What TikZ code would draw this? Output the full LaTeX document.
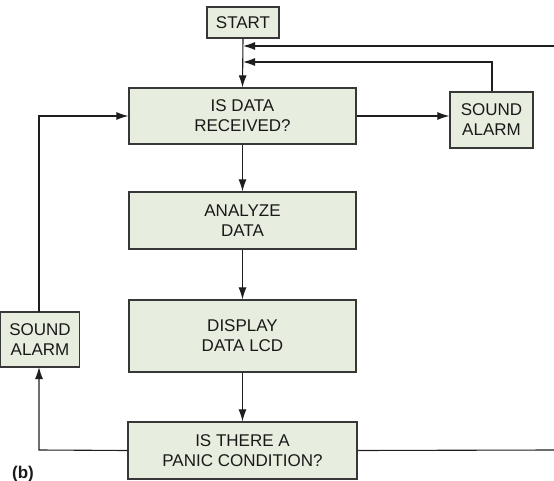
\documentclass[tikz,border=0pt]{standalone}
\usepackage{fontspec}
\setmainfont{Liberation Sans}
\usetikzlibrary{arrows.meta}
\definecolor{boxfill}{RGB}{232,238,223}
\definecolor{boxline}{RGB}{55,55,55}
\definecolor{lineclr}{RGB}{30,30,30}
\definecolor{txt}{RGB}{25,25,25}
\begin{document}
\begin{tikzpicture}[x=1pt,y=-1pt,
  blk/.style={draw=boxline,fill=boxfill,line width=1.2pt,inner sep=0pt,align=center,
    text=txt,font=\fontsize{17}{20}\selectfont,anchor=center},
  conn/.style={draw=lineclr,line width=1.1pt},
  arr/.style={conn,-{Latex[length=12pt,width=8pt]}}]
\useasboundingbox (0,0) rectangle (554,481);
% nodes
\node[blk,minimum width=72pt,minimum height=31pt] (start) at (243,22.5) {START};
\node[blk,minimum width=227pt,minimum height=56pt] (recv) at (242.5,116) {IS DATA\\RECEIVED?};
\node[blk,minimum width=227pt,minimum height=57pt] (anal) at (242.5,220.5) {ANALYZE\\DATA};
\node[blk,minimum width=227pt,minimum height=72pt] (disp) at (242.5,336) {DISPLAY\\DATA LCD};
\node[blk,minimum width=229pt,minimum height=57pt] (panic) at (242.5,450.5) {IS THERE A\\PANIC CONDITION?};
\node[blk,minimum width=83pt,minimum height=56pt] (alarmR) at (491.5,120) {SOUND\\ALARM};
\node[blk,minimum width=79pt,minimum height=55pt] (alarmL) at (40,339.5) {SOUND\\ALARM};
\node[font=\bfseries\fontsize{17}{20}\selectfont,text=txt,anchor=base west,inner sep=0pt] (lbl) at (12,478) {(b)};
% free ends
\coordinate (topR) at (554,46);
\coordinate (botR) at (554,450);
% connectors
\draw[arr] (start.south) -- (recv.north);
\draw[arr] (topR) -- (243,46);
\draw[arr] (alarmR.north -| 492,0) -- (492,62) -- (243,62);
\draw[arr] (recv.east) -- (alarmR.west |- recv.east);
\draw[arr] (recv.south) -- (anal.north);
\draw[arr] (anal.south) -- (disp.north);
\draw[arr] (disp.south) -- (panic.north);
\draw[arr] (panic.west) -- (39,450) -- (39,367);
\draw[arr] (39,312) -- (39,116) -- (recv.west);
\draw[conn] (panic.east) -- (botR);
\end{tikzpicture}
\end{document}
